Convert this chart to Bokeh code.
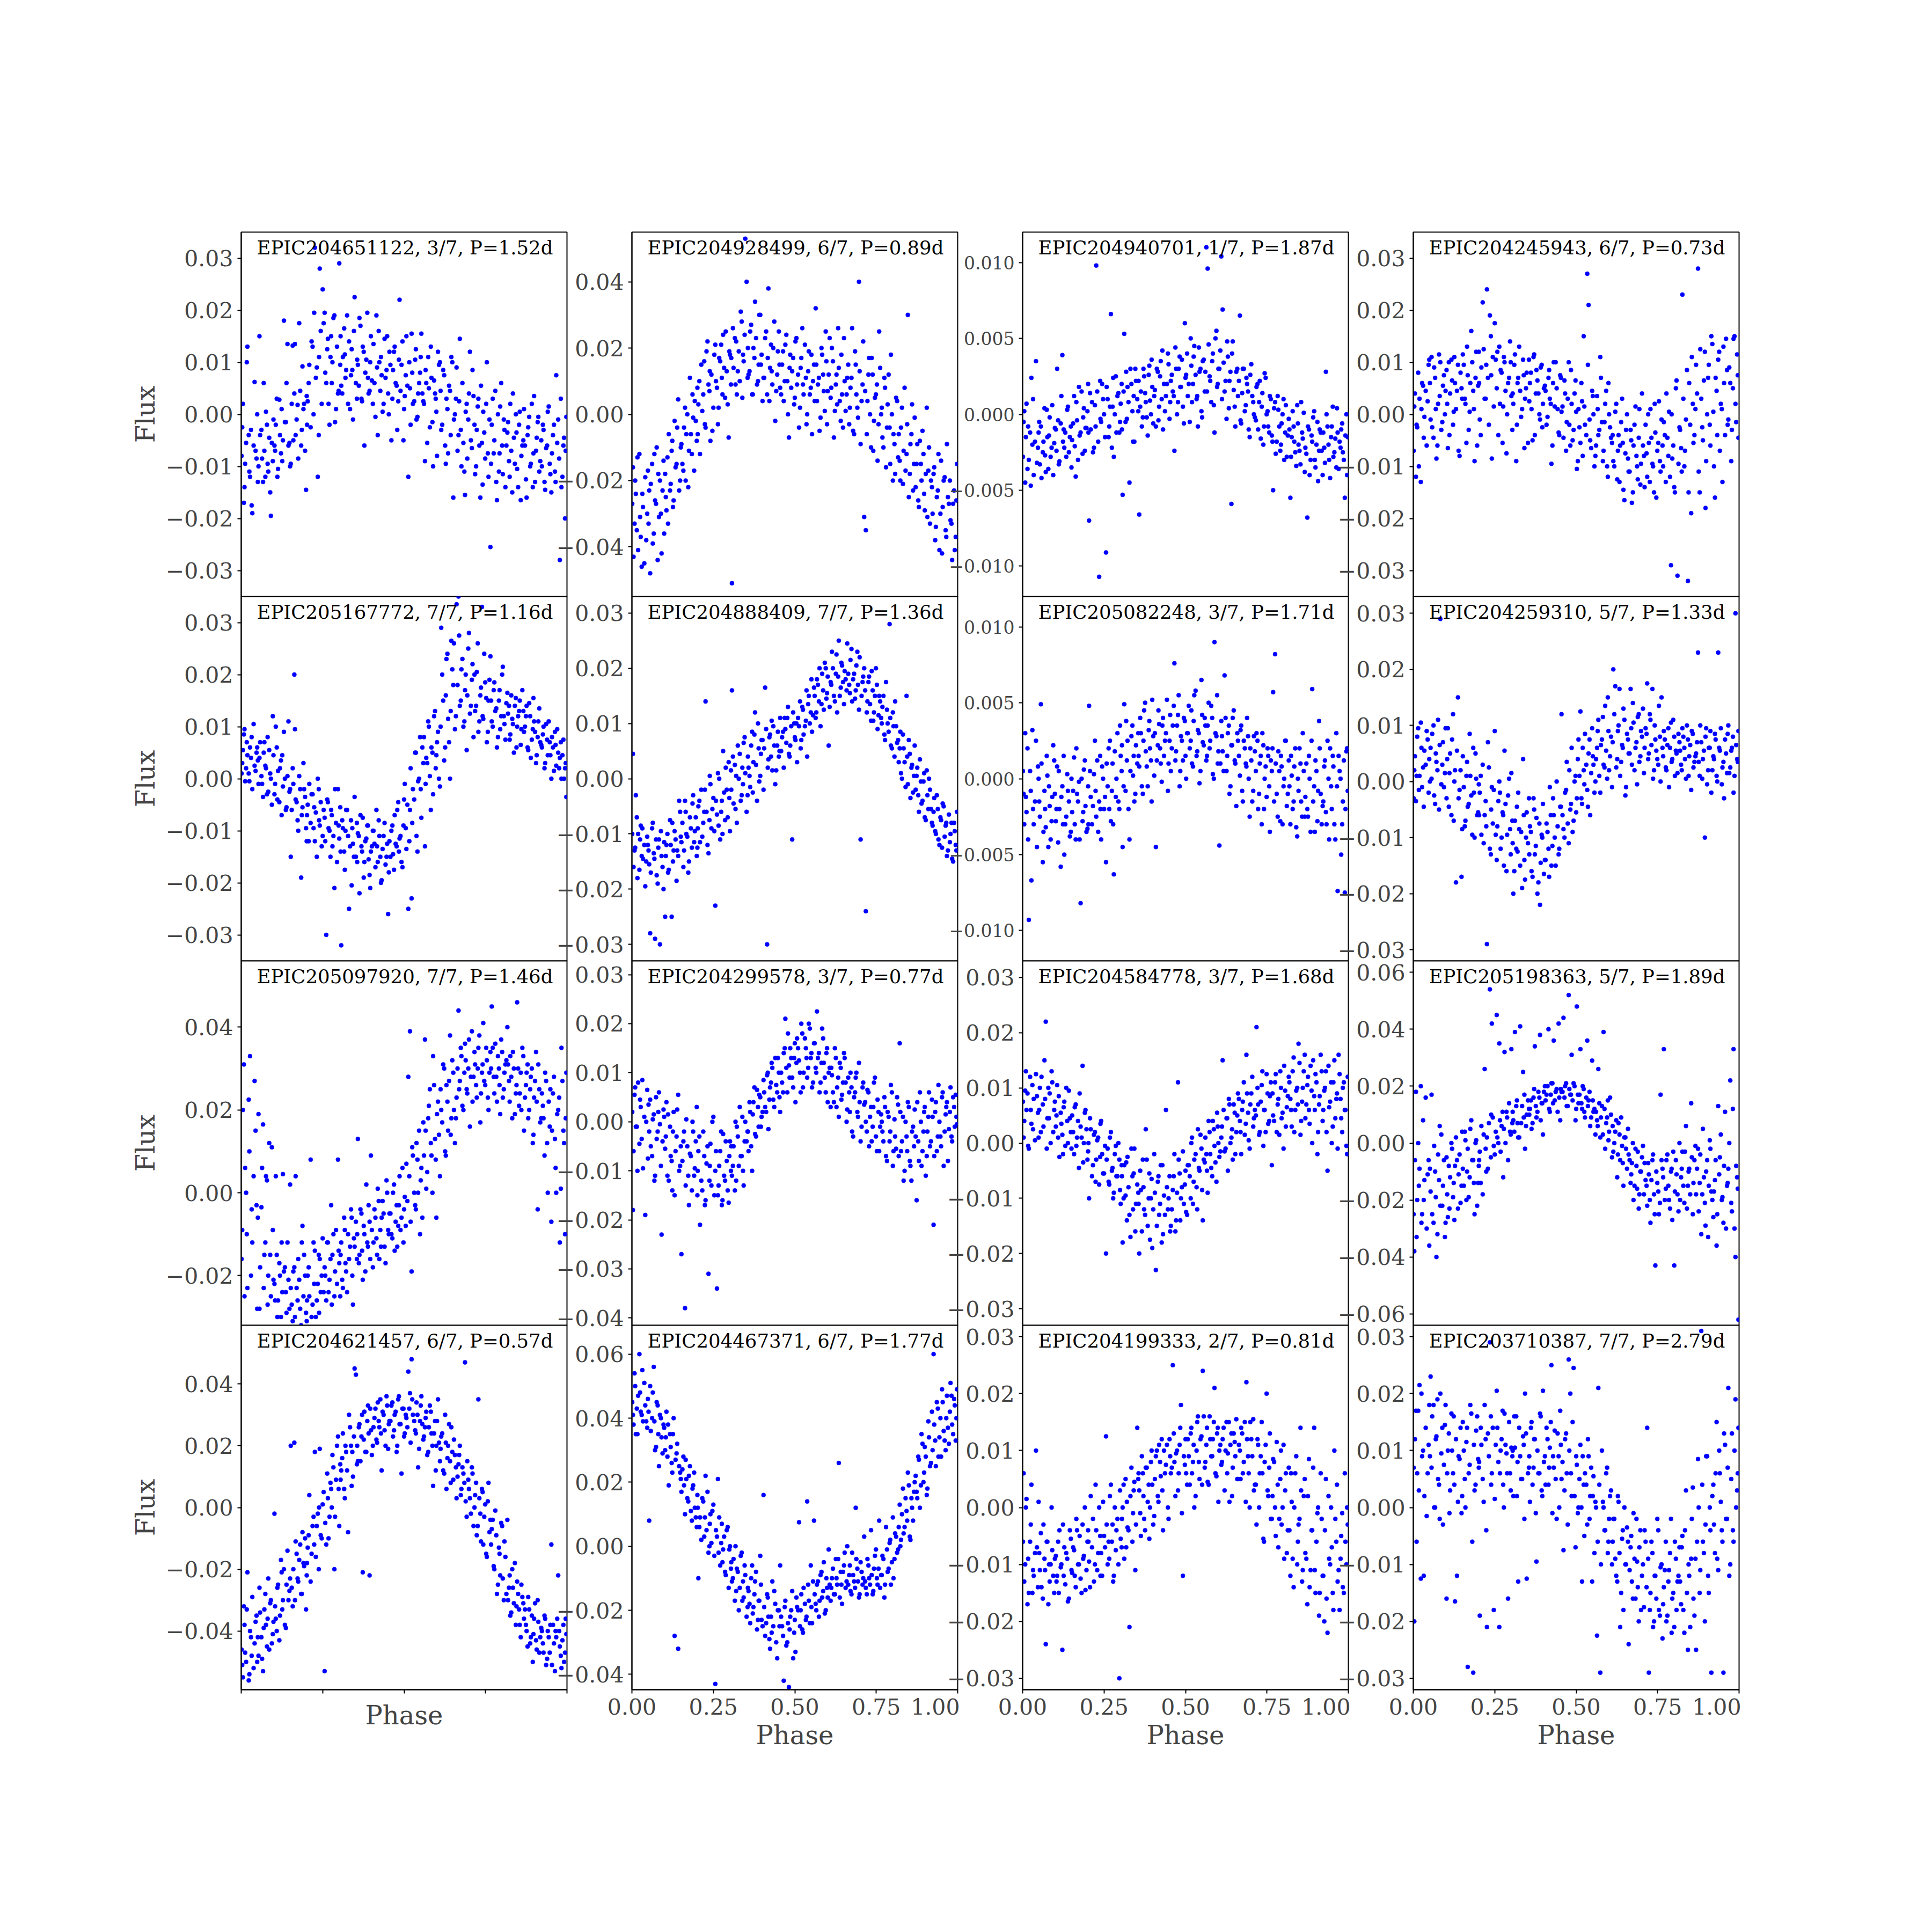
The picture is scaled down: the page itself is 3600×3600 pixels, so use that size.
from bokeh.plotting import figure
from bokeh.layouts import column, row
from bokeh.models import Label, Range1d, SingleIntervalTicker, FixedTicker, CustomJSTickFormatter
from bokeh.embed import file_html
from bokeh.resources import INLINE

# Orbital phase of every sample, in thousandths of a period (two observing passes)
PHASE_A_MILLI = [
    3, 8, 12, 19, 23, 27, 34, 38, 41, 47,
    53, 56, 62, 67, 71, 76, 83, 86, 91, 97,
    102, 106, 113, 117, 122, 128, 131, 137, 142, 148,
    152, 158, 163, 167, 173, 178, 184, 188, 193, 199,
    204, 209, 213, 219, 226, 229, 235, 241, 244, 250,
    256, 261, 264, 271, 276, 280, 286, 291, 297, 301,
    307, 312, 316, 322, 328, 331, 337, 343, 348, 352,
    358, 363, 369, 373, 378, 384, 389, 394, 398, 404,
    409, 415, 419, 424, 431, 434, 440, 446, 451, 455,
    461, 466, 471, 477, 482, 486, 492, 498, 502, 507,
    513, 518, 523, 527, 534, 538, 543, 549, 553, 559,
    564, 568, 574, 579, 584, 589, 595, 599, 604, 610,
    614, 620, 626, 630, 635, 641, 645, 651, 656, 661,
    667, 671, 676, 682, 687, 692, 697, 702, 708, 713,
    718, 723, 728, 734, 739, 743, 749, 754, 759, 765,
    769, 775, 780, 785, 791, 795, 801, 806, 811, 817,
    822, 826, 832, 837, 843, 847, 853, 858, 863, 868,
    874, 879, 884, 889, 895, 899, 905, 910, 915, 921,
    926, 931, 936, 941, 947, 952, 957, 963, 967, 973,
    978, 983, 989, 994, 998,
]
PHASE_B_MILLI = [
    1, 5, 10, 15, 17, 25, 30, 32, 44, 49,
    51, 58, 64, 69, 74, 79, 81, 89, 94, 99,
    104, 109, 111, 119, 124, 126, 134, 139, 145, 150,
    155, 160, 165, 170, 175, 181, 186, 191, 196, 201,
    202, 207, 216, 222, 224, 232, 238, 239, 247, 253,
    258, 266, 268, 274, 278, 283, 288, 294, 299, 304,
    305, 310, 318, 320, 325, 334, 339, 341, 346, 355,
    356, 361, 366, 371, 376, 381, 387, 391, 396, 401,
    406, 412, 417, 422, 427, 429, 437, 443, 448, 453,
    458, 464, 469, 474, 479, 484, 489, 495, 500, 505,
    510, 516, 520, 525, 531, 536, 541, 546, 551, 556,
    561, 566, 571, 576, 582, 587, 592, 597, 601, 607,
    612, 617, 623, 628, 633, 638, 643, 648, 653, 659,
    664, 669, 674, 679, 685, 689, 694, 699, 705, 710,
    716, 721, 726, 731, 736, 741, 746, 752, 757, 762,
    767, 772, 777, 783, 788, 793, 798, 803, 808, 814,
    819, 824, 829, 834, 840, 845, 850, 855, 860, 866,
    871, 876, 881, 887, 892, 897, 902, 907, 912, 918,
    923, 928, 933, 939, 944, 949, 954, 960, 965, 970,
    976, 981, 986, 991, 996,
]

# Relative flux of each star, in units of 1e-4; "_A" values belong to PHASE_A, "_B" to PHASE_B
FLUX_204651122_A = [
    -25, -170, -95, 130, -40, -120, -190, -60, 62, -85,
    -100, 150, -30, -130, -70, 5, -110, -45, -195, -90,
    -60, -20, -105, 28, -75, -50, 180, -15, 135, -55,
    -95, 132, 40, -40, 18, 175, -60, 92, 20, -145,
    25, 95, -25, 130, 320, 70, -120, 280, 160, 240,
    195, 60, 125, -20, 150, 100, 190, 10, 40, 290,
    55, 110, 165, 85, 20, 140, 75, -10, 225, 60,
    95, 185, 30, 130, -60, 105, 70, 45, 150, 20,
    60, 190, -40, 100, 75, 5, 145, 85, 40, 120,
    -50, 85, 130, 55, 25, 220, 95, -50, 35, 150,
    -120, 50, 155, 20, 105, -10, 40, 80, 155, 25,
    -90, 60, 110, -25, 70, -100, 40, 5, 120, 100,
    -30, 85, -60, 30, -75, 45, 110, -160, 0, 90,
    -40, 145, -100, -55, -155, 20, -10, 120, -65, 35,
    -115, -30, 30, -160, -55, 5, -85, 100, -120, -255,
    -20, -75, 45, -165, -110, 15, -60, -10, -140, -35,
    -90, 20, -150, -45, 0, -105, -20, -165, -60, 10,
    -125, -40, -5, -95, -140, 35, -70, -15, -110, -50,
    -20, -130, -65, 5, -95, -150, -40, -110, 75, -10,
    -280, -140, -60, -200, -5,
]
FLUX_204651122_B = [
    -80, 20, -140, -55, 100, -110, -30, -175, -70, 0,
    -130, -40, -85, 60, -120, -20, -95, -150, -55, -10,
    -70, 30, -120, -40, 10, -90, -15, 60, -60, -100,
    20, -50, 135, -10, -85, 45, -30, 10, -70, 35,
    -20, 60, 140, 0, 195, 90, -40, 110, 20, 175,
    80, 145, 20, 110, 60, 185, -15, 130, 45, 95,
    150, 40, 115, 70, 190, 10, 125, 85, 160, 30,
    105, 55, 170, 25, 120, 80, 195, 40, 100, 65,
    135, -5, 90, 160, 45, 110, 20, 70, 150, 0,
    95, 30, 120, 60, -30, 105, 45, 140, 10, 75,
    55, 100, -20, 80, 25, 125, -5, 60, 110, 40,
    20, 85, -55, 50, 130, -15, 65, 30, -80, 95,
    45, -20, 75, -95, 10, 55, -40, 100, -10, 30,
    -70, 25, -30, 60, -110, 5, -85, 40, -50, 85,
    -20, -100, 15, -60, 55, -135, -35, 20, -75, -10,
    -95, 30, -50, -130, 0, -75, 60, -115, -30, -60,
    -15, -120, -70, 40, -95, -35, -140, 5, -80, -50,
    -60, -160, -25, -100, 20, -75, -130, -45, -5, -90,
    -100, -30, -145, -60, 15, -115, -75, -20, -130, -55,
    -85, 30, -120, -45, -70,
]
FLUX_204928499_A = [
    -160, -330, -240, -410, -120, -370, -280, -450, -190, -300,
    -230, -480, -150, -360, -260, -100, -310, -200, -420, -140,
    -180, -290, -60, -230, -110, -260, -20, -150, 45, -200,
    -90, -170, 20, -60, -220, 110, -120, -10, 40, -80,
    30, -120, 150, 60, -40, 190, 90, -80, 120, 20,
    210, 80, -30, 160, 110, 240, 50, 130, -70, 180,
    -510, 140, 230, 60, 190, 100, 280, 160, 530, 400,
    120, 250, 60, 200, 340, 90, 150, 300, 180, 110,
    230, 60, 380, 140, 90, 200, -20, 120, 250, 80,
    150, 40, 210, 100, -70, 180, 130, 30, 220, 90,
    -40, 140, 260, 60, 110, 0, 190, 80, -60, 150,
    320, 40, 110, -10, 180, 70, 250, -30, 120, 50,
    200, -70, 90, 30, 140, -20, 60, 230, 10, 110,
    -30, 80, 260, -60, 150, 20, 400, -90, 90, -310,
    -350, 40, 170, -100, 120, -20, 60, -140, 250, 0,
    -70, 110, -160, 30, -40, 180, -200, -90, 50, -130,
    -140, -40, -210, 80, -120, 300, -180, -60, -230, -10,
    -150, -260, -80, -200, -120, -290, 20, -170, -330, -220,
    -180, -380, -250, -120, -300, -420, -200, -350, -90, -270,
    -320, -440, -230, -370, -150,
]
FLUX_204928499_B = [
    -270, -430, -200, -350, -130, -310, -460, -240, -380, -170,
    -330, -210, -390, -120, -270, -440, -180, -300, -230, -360,
    -250, -130, -330, -210, -80, -280, -160, -40, -230, -100,
    -150, -40, -200, 0, -110, -60, 60, -170, -20, 80,
    -60, 100, 10, 160, -30, 220, 70, 130, -50, 180,
    100, 20, 170, 210, 60, 140, 250, 30, 190, 90,
    170, 260, 90, 220, 130, 310, 50, 180, 240, 110,
    200, 130, 270, 60, 170, 230, 100, 300, 150, 40,
    110, 250, 170, 40, 210, 130, 280, 70, 190, 150,
    60, 190, 100, 240, 0, 140, 80, 170, 50, 230,
    120, 20, 170, 90, 210, -30, 130, 60, 180, 100,
    40, 150, 90, -50, 200, 120, 10, 160, 70, 230,
    80, 160, 10, 120, 260, 40, 180, -40, 100, 60,
    150, 20, 110, -50, 190, 60, -10, 130, 40, 220,
    70, -60, 120, 0, 170, -110, 50, 90, -30, 140,
    20, -100, 80, -40, 120, -150, 0, -60, -180, 40,
    -60, -200, 20, -110, -170, -30, -250, -90, 30, -150,
    -220, -90, -280, -150, -50, -240, -180, -310, -100, -200,
    -300, -160, -340, -230, -410, -140, -280, -190, -370, -250,
    -200, -330, -270, -410, -260,
]
FLUX_204940701_A = [
    -5, -45, 7, -30, -12, 24, -40, -18, 35, -22,
    -33, -8, -25, 4, -38, -15, -2, -28, 6, -19,
    -10, 30, -31, -6, 39, -22, -12, 3, -25, -8,
    -17, 12, -41, -4, 18, -12, -26, 4, -9, 2,
    -70, -10, 8, -22, 98, 15, -107, -5, 20, 0,
    -91, 10, -15, 66, 5, -28, 25, 12, -12, 7,
    -53, 53, -5, 18, -45, 30, 2, -18, 22, 10,
    -66, 15, -2, 25, 8, -14, 32, 0, 18, 12,
    -8, 28, 5, 35, -10, 20, 12, 40, -3, 22,
    15, -24, 30, 8, 38, 18, 5, 60, 26, 12,
    -5, 32, 20, 45, 10, -8, 28, 2, 35, 15,
    110, 96, 25, 8, 40, -12, 55, 20, 30, 104,
    69, 15, -3, 38, 22, -59, 48, 5, 28, 12,
    65, -6, 30, 2, 24, 15, -15, 33, 8, -2,
    18, -10, 22, 5, -20, 27, 0, -8, 12, -14,
    -50, 8, -18, 3, -24, -6, 10, -12, -28, -3,
    -55, -15, -8, -25, 6, -20, -33, -12, 1, -22,
    -68, -10, -30, -18, 2, -35, -5, -24, -12, -40,
    -22, 28, -8, -30, -15, 5, -25, -35, -12, -18,
    -10, -25, -55, 0, -15,
]
FLUX_204940701_B = [
    -28, 2, -15, -36, -8, -47, -20, 10, -32, -12,
    -5, -42, -18, -27, 3, -36, -14, -22, -40, -9,
    -24, -4, -33, 12, -18, -10, -28, 5, -15, -35,
    -6, -21, 8, -30, -14, 15, -2, -24, -9, 20,
    -12, 14, -25, 6, -8, -18, 22, -3, 10, -15,
    18, -8, 5, -22, 24, 0, -12, 14, -5, 20,
    -10, 15, 28, -3, 8, 20, -18, 12, 30, 2,
    22, 5, -8, 30, 14, -2, 26, 9, 36, -6,
    16, 30, -4, 25, 10, 42, 2, 20, 33, 8,
    26, 12, 44, 0, 30, 18, 36, -6, 24, 40,
    20, 50, 8, 38, 26, 12, 44, 30, -2, 36,
    28, 15, 46, 22, 35, 6, 50, 18, 30, 42,
    10, 34, 22, 48, 4, 28, 40, 16, -8, 30,
    22, -4, 14, 30, 6, 20, -10, 26, 12, 0,
    -4, 20, 8, -16, 14, -8, 24, 2, -12, 10,
    -18, 4, -26, 12, -8, -20, 0, -30, 6, -14,
    -10, -28, 2, -18, -34, -6, -24, 8, -16, -38,
    -26, -8, -40, -14, -2, -30, -20, -44, -10, -24,
    -12, -32, 0, -20, -42, -8, -28, -16, 4, -36,
    -22, -6, -30, -14, -40,
]
FLUX_204245943_A = [
    15, -120, -25, 30, -130, 60, -5, 45, -60, 95,
    -10, 110, -45, 70, -85, 20, 100, -30, 55, 0,
    85, -65, 40, 105, -20, 60, 10, 95, -80, 50,
    115, 30, -55, 75, 5, 160, 45, -90, 120, 55,
    -10, 90, 215, 30, 240, 70, 190, -85, 110, 175,
    50, -40, 130, 80, 15, 100, -75, 60, 140, 35,
    20, 115, -90, 70, 45, -5, 105, 30, 80, -55,
    60, 10, 110, -40, 85, 40, -10, 95, 20, 55,
    -20, 70, 30, -95, 100, 15, 50, -35, 75, 5,
    -45, 40, -15, 100, -60, 20, -30, 65, -105, 10,
    -55, 25, 150, -20, 270, 210, -50, 45, 0, -80,
    35, -40, 110, -15, -70, 20, -100, 60, -25, -55,
    -90, 5, -125, -40, -60, 30, -145, -75, 0, -110,
    -30, -170, -60, 15, -100, -45, -135, 40, -80, -20,
    -120, -55, 10, -95, -150, -35, -70, 25, -110, -60,
    -15, -130, -45, 5, -290, -85, -140, 50, -310, -25,
    -65, 230, -100, -10, -320, 60, -190, 20, -40, 95,
    280, -150, 30, -50, 120, -90, 70, -20, 150, 5,
    -160, 45, 105, -70, 10, 130, -40, 85, -10, 60,
    -30, 145, 20, 115, -45,
]
FLUX_204245943_B = [
    -70, 40, -20, 80, -100, 10, 55, -45, 25, 105,
    60, -25, 90, 10, -60, 115, 35, -15, 75, 45,
    20, 100, -40, 65, 5, 110, 45, -70, 80, 30,
    95, 20, 130, -30, 60, 100, 10, 70, -60, 120,
    60, -40, 125, 30, 95, -20, 150, 75, 15, 105,
    120, 20, 85, -55, 110, 45, 0, 70, 100, -30,
    40, 95, -20, 60, 130, 10, 75, -65, 50, 105,
    25, 80, -50, 115, 40, 65, 0, 90, -25, 50,
    45, -5, 85, 20, -60, 60, 100, 10, -40, 70,
    15, 65, -70, 30, -20, 85, -50, 40, 5, -90,
    -25, 60, -80, 15, -40, 95, -10, -65, 35, -100,
    -60, 10, -30, 70, -90, -15, 45, -120, 0, -45,
    -40, -100, 20, -70, -130, -15, -55, -165, -30, -85,
    -110, -50, -150, -20, -80, -125, 10, -95, -60, -140,
    -75, 0, -130, -45, -100, 20, -160, -55, -90, -10,
    -100, -40, 40, -80, -120, 0, -60, -150, 65, -95,
    -30, -110, 30, -70, 85, -150, -20, 110, -55, 10,
    40, -110, 125, -25, 65, -180, 0, 95, -60, 135,
    -100, 70, -40, 120, 20, -130, 60, 145, -20, 90,
    -90, 50, 150, -15, 75,
]
FLUX_205167772_A = [
    30, 85, -5, 45, 10, 60, -20, 105, 25, 50,
    -10, 40, 5, -35, 70, 20, -25, 55, 0, 120,
    -30, 100, 15, -45, 35, -15, 90, -60, 5, -25,
    -150, 20, 200, -40, -80, 5, -190, -55, -20, -95,
    -50, -10, -85, -30, -120, -65, 0, -90, -45, -110,
    -75, -300, -40, -100, -60, -130, -210, -85, -20, -115,
    -320, -95, -140, -60, -110, -250, -80, -125, -35, -150,
    -105, -220, -130, -75, -160, -115, -90, -185, -140, -100,
    -125, -60, -160, -110, -195, -135, -85, -150, -260, -120,
    -100, -145, -70, -130, -45, -115, -160, -90, -10, -135,
    -250, -60, -230, -20, 50, -110, -5, 80, -75, 30,
    -130, 40, 110, 5, 60, -30, 130, 45, 90, -15,
    290, 150, 60, 230, 115, 0, 265, 180, 95, 335,
    350, 140, 210, 100, 170, 55, 250, 125, 190, 80,
    130, 205, 90, 160, 330, 115, 185, 70, 150, 235,
    110, 170, 130, 60, 150, 95, 200, 120, 75, 165,
    140, 85, 115, 50, 155, 100, 130, 65, 170, 90,
    120, 60, 145, 40, 95, 110, 30, 80, 135, 65,
    85, 20, 105, 45, 70, 0, 60, 90, 25, 50,
    40, 0, 75, 20, -35,
]
FLUX_205167772_B = [
    10, 55, 95, 20, 70, -5, 40, 80, 15, 60,
    35, 70, -10, 50, 25, -30, 80, 10, -50, 45,
    -10, 60, -40, 20, -70, 45, 0, -55, 110, -20,
    -60, -10, 95, -45, -100, -20, -70, 30, -35, -120,
    -70, -120, -30, -95, -55, -150, -20, -80, -130, -60,
    -120, -45, -95, -150, -70, -110, -20, -160, -90, -55,
    -140, -80, -175, -100, -60, -130, -205, -95, -150, -85,
    -160, -110, -70, -140, -190, -120, -90, -155, -210, -130,
    -100, -170, -130, -80, -150, -200, -110, -165, -125, -180,
    -150, -90, -175, -125, -60, -140, -110, -170, -40, -95,
    -50, -120, 20, -85, -40, 50, -140, 0, -20, 60,
    80, -10, 30, 100, -60, 50, 120, 20, 70, 0,
    100, 200, 35, 160, 240, 70, 130, 210, 260, 120,
    180, 275, 150, 230, 110, 200, 160, 280, 140, 220,
    200, 140, 260, 110, 175, 120, 240, 155, 90, 190,
    150, 100, 185, 135, 80, 170, 120, 215, 105, 145,
    125, 75, 160, 105, 140, 60, 120, 150, 95, 130,
    100, 140, 55, 120, 75, 155, 90, 45, 110, 70,
    60, 100, 30, 75, 110, 45, 80, 15, 65, 95,
    20, 70, 45, 0, 30,
]
FLUX_204888409_A = [
    45, -130, -30, -100, -165, -85, -145, -120, -195, -105,
    -155, -280, -90, -135, -290, -175, -110, -300, -140, -200,
    -250, -120, -165, -75, -250, -130, -95, -185, -140, -60,
    -115, -160, -40, -100, -170, -70, -125, -30, -95, -140,
    -50, -115, -20, -80, 140, -60, -135, -10, -90, -35,
    -230, -65, 10, -110, -40, 50, -75, -20, 30, -95,
    160, -45, 25, -80, 0, 45, -30, 65, 10, -60,
    20, -15, 85, 30, 120, -40, 55, 5, 70, -20,
    165, -300, 35, 80, 15, 95, -10, 60, 40, 110,
    75, 20, 90, 110, 45, 60, -110, 100, 70, 30,
    95, 55, 130, 80, 105, 40, 150, 120, 85, 165,
    110, 180, 140, 95, 190, 125, 200, 155, 60, 175,
    230, 150, 190, 120, 250, 165, 205, 135, 180, 245,
    170, 215, 140, 190, 160, 230, 125, -110, 175, 200,
    -240, 140, 185, 105, 160, 120, 200, 90, 150, 110,
    130, 80, 175, 100, 280, 60, 120, 40, 95, 70,
    55, 10, 80, 30, 150, -10, 45, 20, -25, 60,
    5, -30, 35, -45, -5, -70, 15, -55, -20, -80,
    -60, -95, -30, -110, -70, -125, -50, -85, -140, -65,
    -100, -145, -80, -120, -60,
]
FLUX_204888409_B = [
    -100, -160, -125, -70, -180, -110, -140, -90, -150, -120,
    -130, -170, -80, -145, -110, -190, -125, -95, -160, -115,
    -140, -100, -170, -120, -80, -150, -110, -130, -40, -105,
    -80, -130, -60, -105, -150, -90, -45, -115, -70, -125,
    -90, -40, -105, -60, -20, -120, -75, 5, -55, -95,
    -40, -85, 0, -60, -100, -25, 20, -70, -35, 15,
    -20, 40, -55, 5, 60, -40, 20, -10, 75, -30,
    40, 5, 60, -25, 80, 25, 100, -5, 45, 70,
    55, 90, 20, 75, 40, 105, 60, 15, 85, 50,
    50, 85, 110, 65, 130, 40, 95, 120, 75, 100,
    110, 140, 70, 125, 95, 160, 135, 100, 180, 115,
    150, 120, 170, 200, 135, 160, 210, 145, 185, 130,
    170, 200, 140, 225, 185, 150, 210, 175, 195, 160,
    190, 155, 235, 180, 145, 205, 170, 220, 150, 185,
    160, 120, 175, 135, 195, 105, 150, 170, 115, 140,
    100, 150, 70, 125, 85, 110, 55, 95, 140, 65,
    30, 85, 0, 55, -15, 40, 70, -35, 25, 5,
    -20, 20, -60, -5, -40, 10, -75, -30, 0, -55,
    -85, -35, -100, -55, -120, -75, -45, -105, -80, -130,
    -115, -80, -150, -95, -130,
]
FLUX_205082248_A = [
    -10, 30, -22, -93, 5, -67, -30, -15, 25, 8,
    -25, 49, -55, -8, -32, 2, -18, -40, -12, 12,
    -28, 8, -20, -58, -5, -50, -30, 3, -15, -35,
    -22, 14, -40, -10, -2, -82, -28, 6, -18, -33,
    48, -12, -30, 3, -25, 12, -15, -40, 8, -20,
    -55, -5, 20, -28, 10, -63, -12, 30, -20, 15,
    -45, 49, -8, 25, -40, 5, 35, -15, 22, 10,
    8, 30, -10, 45, 18, -5, 38, 12, 52, 2,
    -45, 22, 36, 10, 40, 15, 30, -8, 25, 5,
    35, 76, 18, 42, -5, 28, 12, 38, 0, 30,
    20, 45, 8, 55, 15, 32, -3, 65, 24, 40,
    12, 35, 20, 48, 3, 90, 28, 10, -44, 38,
    18, 68, 5, 30, -10, 22, 40, 12, -18, 25,
    2, 35, -15, 20, 8, 28, -25, 12, -8, 18,
    30, -20, 10, -30, 22, 0, -12, 15, -35, 5,
    57, 82, -10, 18, -28, 8, -5, 25, -18, 12,
    -30, 2, -15, 20, -38, -8, 10, -25, 5, -12,
    -20, 15, -35, 59, -5, 12, -28, 38, -10, -18,
    8, -22, 25, -40, -5, 15, -30, 30, -74, 5,
    -50, -15, -75, 18, -8,
]
FLUX_205082248_B = [
    5, -30, -12, 20, -40, -8, 32, -20, -45, 0,
    -15, 10, -35, -20, 15, -45, -5, -28, 22, -10,
    -20, -42, 5, -12, -30, 15, -25, -8, -38, 0,
    -8, -30, 20, -15, -40, 0, -22, 12, -35, -5,
    -30, 5, -18, 25, -8, -35, 15, -20, 0, -12,
    10, -20, 25, -8, -30, 18, 0, -15, 35, 5,
    22, -5, 38, 12, -20, 28, 2, 15, -10, 30,
    15, 40, -5, 25, 50, 8, 32, 20, -15, 28,
    30, 12, 45, 20, -2, 35, 25, 52, 10, 42,
    20, 48, 12, 35, 55, 5, 25, 40, 15, 30,
    48, 25, 10, 38, 58, 18, 30, 5, 42, 22,
    35, 15, 50, 25, 40, 0, 30, 55, 18, 10,
    28, 5, 40, 15, 35, -5, 22, 45, 10, 30,
    15, 32, -8, 25, 10, 40, 0, 20, -15, 28,
    5, 25, -10, 15, 30, -20, 8, 20, -5, 12,
    20, -15, 10, -25, 5, 15, -30, 0, 25, -10,
    -5, 15, -20, 8, -32, 0, 20, -15, 30, -25,
    10, -25, 0, 25, -15, -35, 5, -8, 20, -30,
    -15, 12, -30, 0, 20, -20, 8, -40, -5, 15,
    0, -30, 12, -20, 20,
]
FLUX_204259310_A = [
    20, -35, 80, 10, 105, -10, 55, 30, 90, -20,
    60, 5, 100, -40, 35, 110, 290, -5, 70, 15,
    -30, 95, 50, -60, 120, 20, -180, 150, -15, -170,
    45, -80, 10, -45, 85, -25, 60, -100, 5, -55,
    -20, -95, 30, -60, -290, 70, -120, -10, -75, 90,
    -140, -35, 0, -100, -60, 55, -160, -25, -85, 15,
    -200, -70, -120, -20, -150, -90, 40, -175, -55, -110,
    -80, -160, -30, -130, -65, -180, -220, -95, -40, -140,
    -75, -120, -10, -150, -60, -100, 0, -130, -45, 120,
    -85, -20, 35, -110, -50, 60, -70, 10, -30, 75,
    125, -40, 20, 85, -15, 50, -60, 95, 30, 0,
    60, 110, -20, 75, 30, 135, 5, 90, 45, -10,
    200, 170, 40, 100, 10, 65, 130, -25, 85, 50,
    165, 30, 105, 60, -5, 120, 45, 80, 15, 95,
    175, 50, 110, 165, 20, 75, 40, 135, 0, 60,
    90, 25, 65, -10, 105, 40, 80, 55, 15, 70,
    30, 95, 60, 5, 75, 45, -15, 85, 35, 50,
    230, 10, 70, 40, -100, 95, 20, 60, -20, 45,
    85, 10, 230, 55, -5, 35, 75, 15, 100, 25,
    60, -20, 300, 40, 90,
]
FLUX_204259310_B = [
    -30, 45, 10, 95, -15, 60, 25, -45, 75, 40,
    0, 85, -25, 50, 20, -50, 65, 30, -10, 95,
    40, -45, 15, 75, -70, 0, 55, -30, 20, -85,
    -10, -70, 35, -40, 10, -95, -20, 50, -60, -5,
    -60, 10, -110, -35, -80, 25, -130, -50, -15, -95,
    -80, -20, -120, -55, -150, -40, -95, 5, -130, -70,
    -110, -160, -45, -125, -85, -190, -60, -140, -100, -30,
    -130, -90, -170, -50, -115, -200, -75, -145, -100, -165,
    -140, -90, -170, -60, -115, -30, -150, -80, -120, -45,
    -60, -100, -15, -75, 20, -40, -90, 0, -55, 40,
    10, -30, 60, -5, 30, -45, 75, 15, 45, -20,
    40, 90, 10, 65, 115, 25, 55, 150, 20, 80,
    70, 120, 25, 90, 165, 35, 60, 110, -10, 75,
    50, 95, 140, 20, 70, 115, 35, 90, 130, 60,
    85, 40, 120, 65, 5, 100, 55, 30, 80, 150,
    45, 75, 20, 95, 60, 35, 110, 10, 50, 85,
    55, 20, 80, 40, 100, 10, 65, 90, 25, 45,
    70, 35, 100, 5, 55, 80, -5, 60, 90, 20,
    40, 75, 0, 60, 95, 25, -30, 50, 85, 15,
    55, 80, 10, 65, 35,
]
FLUX_205097920_A = [
    -90, 310, 60, -230, 225, 330, -120, 40, 270, -30,
    190, -280, -35, 165, -150, 40, -200, 120, -250, -90,
    -220, 40, -260, -170, -300, 45, -190, -240, -120, -280,
    -230, -310, -180, 40, -260, -210, -320, -80, -150, -290,
    -200, -250, 80, -270, -140, -300, -220, -160, -240, -110,
    -180, -260, -120, -210, -30, -150, -250, -90, 80, -170,
    -120, -230, -60, -190, -100, -160, -40, -270, -130, -70,
    130, -150, -50, -210, -100, 20, -130, -70, 90, -180,
    -40, -110, 10, -160, -60, -20, -130, 30, -90, -50,
    -100, 0, -140, -30, -80, 40, -60, -120, -10, 70,
    280, 390, -190, 90, -30, 120, 0, -100, 60, 170,
    370, 10, 180, 250, 90, 330, 130, -60, 220, 40,
    200, 310, 100, 260, 150, 380, 180, 290, 120, 230,
    440, 270, 330, 200, 360, 250, 300, 160, 390, 280,
    310, 230, 350, 170, 290, 410, 260, 320, 200, 340,
    450, 280, 360, 220, 300, 190, 340, 250, 310, 400,
    270, 330, 180, 300, 240, 460, 210, 290, 350, 150,
    260, 310, 200, 280, 120, 230, 340, -40, 250, 180,
    210, 90, 270, 0, 160, -70, 240, 130, 0, 200,
    -120, 350, 150, -100, 290,
]
FLUX_205097920_B = [
    -160, 200, -250, 0, -100, 100, -200, -40, 150, -280,
    -60, -180, 60, -230, -120, 30, -270, -150, 110, -210,
    -260, -150, -300, -200, -120, -240, -180, -290, -210, 20,
    -270, -190, -300, -230, -160, -280, -120, -250, -200, -310,
    -260, -180, -300, -120, -220, -260, -150, -290, -200, -240,
    -200, -120, -240, -160, -270, -100, -190, -220, -140, -250,
    -150, -210, -90, -170, -240, -130, -60, -200, -110, -160,
    -100, -170, -40, -140, -80, -190, -120, -30, -160, -90,
    -120, -60, -150, -20, -90, -130, -50, -170, 0, -100,
    -50, -110, 20, -70, -130, -30, -90, 60, -40, -80,
    -20, 40, -70, 110, 0, -40, 80, 150, 30, -60,
    90, 150, 50, 210, 120, 0, 260, 80, 190, 140,
    250, 170, 300, 90, 220, 270, 140, 320, 200, 180,
    300, 250, 350, 210, 290, 320, 240, 370, 280, 220,
    340, 260, 300, 380, 240, 310, 270, 350, 230, 290,
    300, 350, 240, 280, 330, 260, 370, 230, 290, 320,
    310, 220, 280, 340, 190, 260, 300, 240, 200, 330,
    230, 290, 180, 250, 300, 140, 270, 220, 310, 170,
    240, 180, 290, 120, 220, 250, 150, 280, 60, 190,
    230, 10, 270, 120, 180,
]
FLUX_204299578_A = [
    -180, 55, -10, 80, -45, 30, -95, 10, -190, 65,
    -20, 45, -70, 15, -110, -35, 60, -5, -230, 25,
    -55, 40, -120, -10, -80, 20, -150, -30, 55, -90,
    -270, -40, -380, 5, -110, -65, -140, -20, -95, 30,
    -60, -210, -120, -20, -160, -85, -310, -45, -130, 10,
    -100, -340, -150, -60, -170, -25, -120, -80, -165, -40,
    -110, -50, -140, -10, -90, 30, -70, -130, 0, -40,
    -60, 20, -100, 40, -25, 65, -10, 50, 10, 85,
    30, 95, -15, 70, 110, 45, 130, 60, 100, 20,
    80, 140, 210, 60, 115, 150, 90, 130, 40, 170,
    125, 60, 180, 100, 150, 90, 200, 130, 70, 160,
    110, 225, 140, 80, 190, 120, 60, 150, 100, 30,
    95, 40, 130, 70, 10, 110, 55, 140, 80, 25,
    60, 100, -20, 50, 90, 20, 120, -40, 70, 35,
    0, 65, -50, 30, -10, 80, -30, 45, -60, 15,
    -20, 50, -70, 20, -40, 75, -90, 5, -55, 35,
    160, -60, 10, -100, -30, 40, -80, -120, -10, 25,
    -160, -40, 60, -90, -20, 30, -70, 10, -50, 45,
    -210, 20, -60, 75, -30, 50, -90, 15, 40, -15,
    70, -40, 30, 55, -5,
]
FLUX_204299578_B = [
    20, -60, 70, -10, -100, 45, -35, 85, 0, -75,
    35, -50, 5, -120, 50, -20, 20, -90, -40, 10,
    -30, -110, 15, -70, -140, -20, -60, 25, -100, -50,
    -80, -20, -130, -50, -170, -70, 0, -110, -40, -150,
    -100, -30, -140, -70, -170, -50, -120, -90, 0, -150,
    -60, -130, -90, -20, -160, -110, -40, -140, -70, -100,
    -50, -90, 0, -120, -30, -70, 10, -100, -40, -20,
    -20, 40, -50, 15, 70, -30, 30, 55, -10, 20,
    60, 20, 100, 45, 80, 120, 30, 75, 130, 50,
    100, 60, 150, 110, 180, 90, 130, 70, 160, 120,
    150, 100, 200, 70, 170, 130, 110, 190, 140, 80,
    160, 100, 130, 60, 120, 170, 90, 140, 40, 110,
    110, 60, 150, 30, 90, 120, 45, 80, 130, 0,
    90, 20, 70, -30, 60, 100, 10, 40, -10, 80,
    40, -20, 60, 10, -40, 30, 90, -60, 20, -10,
    0, -40, 30, -80, 10, -20, 60, -60, -30, 50,
    -70, 20, -40, -120, 0, -60, 30, -90, -20, -50,
    -30, 40, -80, 0, -60, 20, -110, -20, 60, -40,
    10, -70, 40, -30, 0, -50, 60, -20, 30, -80,
    20, -30, 50, -10, 10,
]
FLUX_204584778_A = [
    10, 95, 60, -10, 120, 35, 80, 5, 125, 55,
    100, 20, 70, 150, 220, 45, 90, 0, 110, 60,
    30, 105, -25, 55, 15, 75, -5, 40, 95, 20,
    50, -20, 70, 10, -45, 30, 140, 0, 60, -30,
    -100, 25, -60, 15, -30, 5, -75, 40, -20, -55,
    -200, -10, -70, 20, -45, -90, -5, -60, -30, -110,
    -180, -40, -95, -25, -130, -170, -60, -10, -110, -75,
    -200, -85, -30, -120, 25, -150, -55, -100, -190, -20,
    -230, -70, -130, -40, -165, -95, 60, -120, -60, -150,
    -85, -20, -140, 110, -55, -100, -15, -75, -125, -40,
    -60, 0, -110, -30, -80, 25, -50, -10, -140, -35,
    -20, -90, 20, -45, 40, -5, -70, 30, -25, 10,
    150, -15, 45, -50, 70, 10, -30, 55, 20, 90,
    40, -20, 75, 15, 160, 55, -10, 90, 30, 60,
    210, 70, 20, 105, -5, 60, 125, 35, 85, -40,
    50, 110, 20, 80, 130, 45, -10, 95, 65, 120,
    80, 30, 155, 60, 100, 180, 15, 75, 130, 45,
    105, 60, 140, 0, 85, 125, -20, 70, 160, 40,
    95, 130, -50, 65, 110, 30, 150, 80, -10, 125,
    45, 100, 60, -5, 120,
]
FLUX_204584778_B = [
    75, 40, 130, 90, -5, 60, 105, 25, 85, 10,
    60, 120, 30, 80, -10, 100, 45, 130, 20, 75,
    50, 10, 85, 35, -20, 65, 100, 0, 45, -10,
    20, 65, -5, 40, 90, 10, -35, 55, 25, -15,
    0, 45, -40, 20, -70, 10, -25, 35, -55, -5,
    -30, -75, 10, -50, -100, -20, -60, 0, -85, -40,
    -60, -100, -35, -140, -80, -10, -120, -55, -160, -90,
    -110, -50, -160, -80, -130, -30, -100, -175, -65, -120,
    -90, -150, -60, -110, -180, -40, -130, -80, -100, -160,
    -120, -60, -160, -90, -30, -140, -80, -110, -50, -130,
    -40, -100, 10, -70, -20, -120, -45, 15, -85, -30,
    10, -50, 40, -20, -60, 25, -35, 55, 0, -15,
    30, 60, -10, 45, 80, 0, 25, 70, -20, 50,
    80, 20, 60, 110, 35, 90, 5, 70, 120, 45,
    50, 100, 15, 75, 130, 60, 20, 90, 40, 110,
    90, 40, 125, 70, 15, 100, 55, 140, 30, 85,
    110, 60, 130, 20, 95, 70, 145, 40, 100, 160,
    70, 120, 35, 95, 150, 60, 110, 20, 85, 130,
    60, 100, 20, 140, 75, 0, 110, 45, 90, 160,
    80, 20, 110, 60, -20,
]
FLUX_205198363_A = [
    -380, 180, -200, -90, 200, -250, -130, 160, -300, -60,
    -170, 170, -280, -100, -400, -40, -220, 30, -150, -330,
    -50, -260, -120, 0, -190, -80, 20, -230, -40, -150,
    -90, 40, -200, -20, -120, 80, -60, -250, 10, -140,
    -30, 60, -180, 260, 20, -90, 540, 420, 90, -40,
    450, 0, 350, 60, -120, 320, 110, -60, 40, 330,
    80, 390, 130, 20, 410, 70, 250, -20, 100, 150,
    120, 50, 160, 340, 90, 180, 380, 140, 30, 200,
    170, 400, 110, 210, 360, 150, 190, 420, 80, 180,
    440, 200, 130, 520, 170, 310, 210, 80, 480, 140,
    330, 120, 190, 90, 360, 150, 60, 290, 110, 30,
    80, 260, 20, 130, 390, -20, 90, 10, 160, -50,
    -30, 40, -120, 70, -60, -10, -150, 20, -90, -40,
    -140, -70, -200, -20, -160, -230, -100, -50, -180, -130,
    -220, -110, -280, -60, -180, -430, -140, -250, 170, -90,
    330, -160, -40, -200, -100, -270, -430, -60, -180, 0,
    -120, -30, -210, 60, -150, -90, 140, -250, -60, -180,
    -20, -140, -320, 50, -210, -100, -330, 10, -170, -260,
    -130, -360, 130, -50, -200, -280, 110, -150, -90, 220,
    -240, 330, -400, -120, -620,
]
FLUX_205198363_B = [
    -250, -60, -330, 0, -150, -280, 80, -200, -110, -360,
    -90, -250, -10, -190, -320, -130, 60, -220, -60, -280,
    -180, -80, -230, -20, -140, -270, -60, -110, -210, 40,
    -150, 10, -100, -190, 50, -60, -140, 0, -220, -80,
    -60, -140, 30, -20, -100, 70, -50, 100, -10, 40,
    20, 80, -30, 110, 50, 0, 90, 140, 30, 70,
    110, 40, 150, 70, 20, 130, 90, 170, 60, 120,
    100, 150, 70, 190, 130, 110, 160, 80, 140, 180,
    150, 200, 120, 170, 210, 140, 180, 110, 160, 190,
    180, 160, 210, 130, 190, 170, 150, 200, 120, 170,
    170, 140, 200, 110, 160, 130, 180, 90, 150, 120,
    110, 60, 140, 90, 30, 120, 70, 150, 40, 100,
    60, 0, 80, -40, 30, 90, -70, 20, -20, 50,
    -60, -110, 0, -150, -80, -30, -180, -100, -10, -70,
    -150, -70, -200, -130, -40, -250, -100, -170, -210, -60,
    -120, -200, -60, -150, -230, -90, -30, -170, -110, -240,
    -200, -90, -150, -30, -230, -100, -180, -50, -140, -10,
    -90, -240, -40, -180, -120, -290, -60, -150, -20, -200,
    -170, -60, -250, -110, 30, -190, -80, -300, -140, 0,
    -210, 120, -300, -80, -160,
]
FLUX_204621457_A = [
    -510, -320, -470, -210, -560, -400, -290, -520, -440, -350,
    -480, -260, -420, -530, -330, -380, -230, -460, -300, -410,
    -20, -360, -250, -430, -170, -300, -200, -390, -140, -270,
    200, -320, 210, -110, -230, -170, -280, -80, -190, -330,
    -130, 40, -240, -60, 180, -160, -20, 190, -90, 10,
    -530, -120, 110, -30, 60, 170, -200, 90, 230, -60,
    120, 240, 60, 180, -80, 300, 200, 100, 450, 430,
    150, 270, 230, -210, 310, 180, 330, -220, 250, 200,
    290, 220, 340, 260, 120, 310, 250, 360, 190, 280,
    330, 230, 300, 180, 350, 270, 110, 320, 240, 290,
    440, 370, 480, 300, 250, 340, 130, 280, 360, 220,
    260, 310, 180, 330, 240, 70, 280, 200, 350, 150,
    230, 120, 300, 60, 200, 150, 260, 90, 170, 30,
    140, 200, 60, 110, 470, -30, 90, 30, 130, -60,
    40, -90, 350, -20, 60, -120, 10, -160, 80, -40,
    -70, -190, -10, -280, -130, -220, -60, -300, -160, -40,
    -260, -350, -200, -310, -380, -240, -330, -420, -290, -360,
    -380, -450, -330, -420, -500, -360, -430, -300, -470, -390,
    -440, -350, -510, -400, -470, -120, -380, -530, -420, -220,
    -450, -520, -380, -470, -410,
]
FLUX_204621457_B = [
    -460, -550, -380, -500, -330, -540, -420, -480, -370, -500,
    -420, -340, -490, -390, -280, -450, -360, -310, -440, -370,
    -320, -400, -260, -350, -210, -330, -380, -250, -300, -230,
    -260, -200, -300, -150, -240, -120, -280, -180, -100, -220,
    -180, -90, -150, -30, -120, -60, -200, 0, -100, 50,
    -50, 30, -100, 80, 0, 130, -30, 200, 60, 140,
    90, 160, 30, 200, 120, 260, 70, 180, 230, 140,
    200, 260, 150, 300, 220, 180, 280, 240, 320, 170,
    260, 320, 210, 280, 350, 240, 300, 200, 330, 270,
    280, 340, 250, 310, 200, 360, 270, 320, 230, 300,
    260, 320, 210, 350, 280, 240, 300, 190, 330, 270,
    230, 290, 170, 260, 310, 200, 240, 120, 280, 210,
    190, 240, 110, 210, 160, 270, 80, 180, 220, 130,
    100, 170, 40, 130, 80, 20, 150, 60, -20, 110,
    0, 80, -60, 30, -110, 50, -30, -150, 20, -80,
    -120, -40, -200, -90, -250, -150, -50, -230, -110, -280,
    -300, -220, -340, -260, -180, -320, -280, -380, -250, -310,
    -330, -400, -290, -440, -350, -410, -310, -460, -370, -420,
    -400, -470, -360, -490, -420, -380, -510, -440, -400, -360,
    -400, -480, -430, -500, -360,
]
FLUX_204467371_A = [
    410, 540, 350, 470, 600, 420, 390, 510, 440, 370,
    80, 500, 400, 560, 300, 450, 250, 410, 340, 380,
    300, 420, 190, 350, 260, 400, -280, 290, -320, 230,
    170, 280, 100, 210, 140, 250, 80, 190, 120, 60,
    -100, 90, 20, 140, 220, 50, -20, 100, 10, 130,
    -430, 30, 210, -60, 70, -10, -80, 50, -130, 0,
    -110, -40, -170, -70, -200, -130, -20, -160, -90, -220,
    -140, -240, -60, -190, -110, -260, -170, -30, -230, 160,
    -280, -150, -220, -320, -110, -250, -180, -350, -200, -60,
    -250, -420, -170, -300, -440, -220, -140, -270, -330, -190,
    75, -200, -260, -130, -230, 140, -170, -60, -240, 80,
    -180, -120, -220, -90, -160, -50, -200, -130, -10, -170,
    -100, -150, -40, -120, 260, -80, -180, -60, -130, 0,
    -90, -140, -20, -110, 120, -70, -160, -50, -120, 30,
    -130, -40, -100, 50, -150, -70, -10, -120, 80, -90,
    -30, -160, 60, -80, 10, -120, 90, -40, 30, -10,
    130, 20, 180, 60, 110, 230, 30, 150, 80, 200,
    170, 280, 120, 350, 200, 310, 160, 390, 250, 420,
    600, 330, 450, 280, 400, 490, 360, 300, 470, 320,
    510, 380, 460, 330, 490,
]
FLUX_204467371_B = [
    450, 380, 500, 430, 350, 480, 410, 550, 390, 460,
    420, 360, 480, 390, 310, 440, 350, 400, 290, 370,
    340, 280, 380, 310, 230, 350, 270, 320, 250, 210,
    240, 190, 270, 150, 220, 110, 180, 230, 90, 160,
    120, 60, 150, 30, 90, 170, 0, 70, 110, -30,
    50, -20, 90, 10, -50, 30, -90, 60, -10, -70,
    -50, -100, 0, -140, -80, -30, -170, -110, -60, -190,
    -130, -180, -100, -210, -150, -80, -230, -170, -120, -250,
    -190, -240, -160, -290, -220, -270, -140, -300, -200, -250,
    -220, -280, -190, -310, -240, -260, -200, -350, -230, -160,
    -200, -250, -150, -270, -180, -220, -120, -240, -190, -110,
    -150, -200, -110, -170, -80, -140, -210, -100, -160, -120,
    -130, -70, -150, -100, -40, -160, -120, -80, -20, -110,
    -120, -60, -150, -90, -130, -40, -110, -150, -80, -100,
    -110, -150, -60, -120, -90, -140, -30, -100, -70, -130,
    -90, -40, -120, -10, -70, 20, -50, -100, 40, -20,
    60, 0, 100, 40, 150, 80, 190, 20, 120, 170,
    220, 150, 270, 190, 320, 230, 280, 180, 340, 260,
    300, 380, 250, 430, 340, 280, 450, 330, 400, 370,
    420, 470, 350, 440, 400,
]
FLUX_204199333_A = [
    60, -100, 15, -150, -60, 40, -120, -80, 100, -140,
    -110, -45, -160, -90, -240, -60, -130, -100, -75, -150,
    -85, -120, -40, -105, -250, -70, -135, -90, -160, -55,
    -115, -75, -140, -40, -100, -125, -30, -85, -145, -60,
    -95, 20, -70, -130, -40, -110, 0, -80, -120, -50,
    125, -100, -60, 40, -30, -120, -75, -20, -300, -55,
    0, -90, 50, -35, -210, 20, -60, 45, -30, 140,
    30, -50, 60, -20, 70, 10, -55, 80, 40, -15,
    90, 20, 110, 55, -40, 100, 75, 0, 120, 60,
    250, 80, 95, 30, 110, 180, -120, 75, 60, 120,
    40, 140, 80, 0, 100, 160, 50, 125, 240, 70,
    110, 45, 160, 90, 120, 210, 55, 140, 100, 75,
    120, 30, 150, 95, 10, 130, 70, 115, 155, 50,
    100, 140, 60, 150, 220, 90, 0, 120, 155, 40,
    -30, 110, 60, 150, -55, 80, 200, 20, 130, -20,
    85, 0, 115, -70, 50, -30, 110, 30, -80, 70,
    -120, 10, -140, 60, -100, -30, 140, -130, 20, -80,
    -170, 85, -110, -40, 140, -150, -10, -190, 60, -120,
    -200, 50, -220, -90, 0, -150, 100, -60, -130, -180,
    -50, -140, 60, -100, -30,
]
FLUX_204199333_B = [
    -60, -130, 0, -170, -90, -30, -150, -110, -70, 10,
    -80, -140, -30, -110, -60, -170, -100, 0, -120, -90,
    -130, -60, -150, -100, -30, -120, -80, -165, -40, -110,
    -70, -120, -20, -100, -50, -150, -90, 0, -110, -40,
    -60, -140, -20, -100, 40, -80, -50, -120, 10, -70,
    -30, -90, 20, -60, -130, 0, -40, -100, 30, -70,
    -20, 40, -70, 10, -40, 70, -10, 30, -110, 50,
    60, -10, 90, 20, -40, 70, 40, 0, 100, -30,
    50, 100, 10, 80, 120, 30, 60, 110, -20, 90,
    70, 130, 20, 100, 60, 140, -10, 90, 120, 40,
    90, 130, 60, 110, 20, 150, 80, 120, 40, 160,
    80, 140, 40, 120, 90, 150, 60, 130, 10, 110,
    80, 140, 100, 60, 150, 110, 20, 130, 90, 50,
    110, 50, 130, 80, 10, 120, 60, 150, 90, 30,
    40, 120, 0, 90, 60, -60, 110, 30, 70, -20,
    20, 80, -50, 40, -20, 100, 0, -90, 60, -40,
    -40, 60, -90, 0, 90, -60, -20, 30, -110, 50,
    -90, 20, -140, -40, 70, -110, -60, 0, -150, -20,
    -120, -40, -160, 20, -100, -70, -180, -20, 40, -110,
    -90, -10, -150, -60, 0,
]
FLUX_203710387_A = [
    -200, 170, 60, 215, -125, 90, 20, 140, -15, 110,
    230, 70, 180, 0, 125, 50, 200, 95, -30, 145,
    -160, 100, 30, 165, 60, -165, 120, 10, 85, -10,
    150, 50, 115, -280, 75, 165, -290, 30, 135, 85,
    -190, 110, 50, 180, -210, 130, 290, 60, 140, 15,
    205, 80, -210, 120, 40, 165, 95, -160, 60, 105,
    20, 105, 160, -130, 90, 50, 125, 200, -125, 60,
    10, 150, 70, 120, -95, 60, 165, 30, 205, 90,
    140, 40, 105, 250, 70, 135, -20, 90, 170, 50,
    -75, 120, 60, 260, 200, 20, 245, -70, 75, 0,
    110, -130, 40, 60, -30, 90, 20, -130, 55, 10,
    -225, 210, -290, 100, 0, -40, 70, -60, 20, -100,
    -20, -90, -130, 10, -210, -55, -180, -100, -35, -240,
    -70, -130, -10, -160, -95, -200, -40, -120, -175, -60,
    140, -290, -150, -80, -200, -120, -20, -180, -105, -230,
    -140, -60, -190, -110, -20, -160, -210, -90, -130, -70,
    -170, -50, -220, 30, -250, -120, -90, 35, -190, -250,
    85, -150, 310, -60, -200, 90, -120, 0, -290, 40,
    -80, 150, -110, 60, -40, -290, 110, -20, 210, -100,
    130, -60, 190, 30, 140,
]
FLUX_203710387_B = [
    70, 120, -60, 170, 30, 200, 100, -120, 60, 180,
    90, 160, 0, 120, 190, 40, -20, 140, 75, 180,
    60, 130, -10, 100, 160, 40, -120, 90, 140, 20,
    100, 0, 140, 60, 180, -60, 110, 40, 160, 70,
    80, 140, 10, 120, -40, 90, 160, 40, -180, 110,
    140, 60, 100, 170, 0, 110, 60, 150, 30, 90,
    100, 160, 20, 80, 140, 50, 110, -20, 130, 70,
    90, 140, 40, 120, -10, 100, 60, 160, 20, 80,
    40, 120, 70, 150, -10, 90, 50, 130, 0, 110,
    80, 30, 130, -30, 100, 60, 150, 20, 90, -10,
    50, 0, 90, -50, 40, 120, -20, 70, 20, -80,
    0, -60, 40, -100, 10, -40, 60, -80, -20, 30,
    -60, -20, -120, 20, -80, -150, -40, 0, -100, -60,
    -110, -50, -160, -90, -20, -140, -70, -180, -100, -40,
    -140, -90, -180, -60, -210, -120, -160, -40, -190, -100,
    -170, -110, -200, -130, -80, -220, -150, -60, -180, -120,
    -130, -70, -180, -40, -150, -100, -210, -20, -160, -90,
    -60, 0, -110, 40, -80, -30, 90, -150, -40, 20,
    -30, 60, -90, 100, 10, -60, 130, -20, 70, -120,
    50, -40, 100, 0, 60,
]

TITLES = [
    "EPIC204651122, 3/7, P=1.52d", "EPIC204928499, 6/7, P=0.89d",
    "EPIC204940701, 1/7, P=1.87d", "EPIC204245943, 6/7, P=0.73d",
    "EPIC205167772, 7/7, P=1.16d", "EPIC204888409, 7/7, P=1.36d",
    "EPIC205082248, 3/7, P=1.71d", "EPIC204259310, 5/7, P=1.33d",
    "EPIC205097920, 7/7, P=1.46d", "EPIC204299578, 3/7, P=0.77d",
    "EPIC204584778, 3/7, P=1.68d", "EPIC205198363, 5/7, P=1.89d",
    "EPIC204621457, 6/7, P=0.57d", "EPIC204467371, 6/7, P=1.77d",
    "EPIC204199333, 2/7, P=0.81d", "EPIC203710387, 7/7, P=2.79d",
]
FLUXES = [
    (FLUX_204651122_A, FLUX_204651122_B), (FLUX_204928499_A, FLUX_204928499_B),
    (FLUX_204940701_A, FLUX_204940701_B), (FLUX_204245943_A, FLUX_204245943_B),
    (FLUX_205167772_A, FLUX_205167772_B), (FLUX_204888409_A, FLUX_204888409_B),
    (FLUX_205082248_A, FLUX_205082248_B), (FLUX_204259310_A, FLUX_204259310_B),
    (FLUX_205097920_A, FLUX_205097920_B), (FLUX_204299578_A, FLUX_204299578_B),
    (FLUX_204584778_A, FLUX_204584778_B), (FLUX_205198363_A, FLUX_205198363_B),
    (FLUX_204621457_A, FLUX_204621457_B), (FLUX_204467371_A, FLUX_204467371_B),
    (FLUX_204199333_A, FLUX_204199333_B), (FLUX_203710387_A, FLUX_203710387_B),
]
Y_LIMITS = [
    (-0.035, 0.035), (-0.055, 0.055), (-0.012, 0.012), (-0.035, 0.035),
    (-0.035, 0.035), (-0.033, 0.033), (-0.012, 0.012), (-0.032, 0.033),
    (-0.032, 0.056), (-0.0415, 0.0328), (-0.033, 0.033), (-0.064, 0.064),
    (-0.059, 0.059), (-0.0448, 0.069), (-0.032, 0.032), (-0.032, 0.032),
]
Y_TICK_STEP = [
    0.01, 0.02, 0.005, 0.01,
    0.01, 0.01, 0.005, 0.01,
    0.02, 0.01, 0.01, 0.02,
    0.02, 0.02, 0.01, 0.01,
]
PHASE_TICKS = [0.0, 0.25, 0.5, 0.75, 1.0]

FONT = "DejaVu Serif"
FRAME_W, FRAME_H = 607, 679
GAP_X = 121
LEFT_PAD = 449
TOP_PAD = 432
AXIS_ROOM = 150
EDGE = 4
OVER = 34   # spare canvas above/below inner rows so edge tick labels are not clipped


def tick_formatter(digits):
    return CustomJSTickFormatter(args=dict(d=digits), code="""
        const s = Math.abs(tick).toFixed(d);
        return (tick < -1e-9 ? "\u2212" : "") + s;
    """)


def series(phase_milli, flux_1e4):
    n = min(len(phase_milli), len(flux_1e4))
    return [v / 1000 for v in phase_milli[:n]], [v / 1e4 for v in flux_1e4[:n]]


def make_panel(i):
    r, c = divmod(i, 4)
    xa_, ya_ = series(PHASE_A_MILLI, FLUXES[i][0])
    xb_, yb_ = series(PHASE_B_MILLI, FLUXES[i][1])
    small = Y_TICK_STEP[i] < 0.01
    p = figure(
        frame_width=FRAME_W, frame_height=FRAME_H,
        x_range=Range1d(0, 1), y_range=Range1d(*Y_LIMITS[i]),
        output_backend="svg", toolbar_location=None,
        min_border_left=LEFT_PAD if c == 0 else AXIS_ROOM,
        min_border_right=EDGE,
        min_border_top=TOP_PAD if r == 0 else OVER,
        min_border_bottom=220 if r == 3 else OVER,
        margin=(0 if r == 0 else -2 * OVER, 0, 0,
                0 if c == 0 else -(AXIS_ROOM - GAP_X + EDGE)),
        border_fill_color=None, background_fill_color="white",
        outline_line_color="black", outline_line_width=2,
    )
    p.grid.visible = False

    p.scatter(xa_ + xb_, ya_ + yb_, marker="circle", size=8,
              fill_color="#0000ff", line_color="#0000ff", line_width=0.5)

    ya = p.yaxis[0]
    ya.ticker = SingleIntervalTicker(interval=Y_TICK_STEP[i], num_minor_ticks=0)
    ya.formatter = tick_formatter(3 if small else 2)
    ya.major_label_text_font = FONT
    ya.major_label_text_font_size = "33px" if small else "41px"
    ya.major_tick_out = 7
    ya.major_tick_in = 0
    ya.major_tick_line_width = 2
    ya.minor_tick_line_color = None
    ya.axis_line_width = 2
    ya.major_label_standoff = 8
    if c == 0:
        ya.axis_label = "Flux"
        ya.axis_label_text_font = FONT
        ya.axis_label_text_font_size = "48px"
        ya.axis_label_text_font_style = "normal"
        ya.axis_label_standoff = 7

    xa = p.xaxis[0]
    if r < 3:
        xa.visible = False
    else:
        xa.ticker = FixedTicker(ticks=PHASE_TICKS)
        xa.major_tick_out = 7
        xa.major_tick_in = 0
        xa.major_tick_line_width = 2
        xa.minor_tick_line_color = None
        xa.axis_line_width = 2
        xa.major_label_text_font = FONT
        xa.axis_label = "Phase"
        xa.axis_label_text_font = FONT
        xa.axis_label_text_font_size = "48px"
        xa.axis_label_text_font_style = "normal"
        if c == 0:
            xa.formatter = CustomJSTickFormatter(code='return "";')
            xa.major_label_text_font_size = "1px"
            xa.major_label_standoff = 0
            xa.axis_label_standoff = 12
        else:
            xa.formatter = tick_formatter(2)
            xa.major_label_text_font_size = "41px"
            xa.major_label_standoff = 9
            xa.axis_label_standoff = 7

    p.add_layout(Label(
        x=0, y=Y_LIMITS[i][1], x_offset=29, y_offset=-29,
        text=TITLES[i], text_font=FONT, text_font_size="35.5px",
        text_baseline="alphabetic", text_align="left", text_color="black",
    ))
    return p


panels = [make_panel(i) for i in range(16)]
layout = column(*[row(*panels[r * 4:(r + 1) * 4], spacing=0) for r in range(4)], spacing=0)

open("out.html", "w").write(file_html(layout, INLINE))
